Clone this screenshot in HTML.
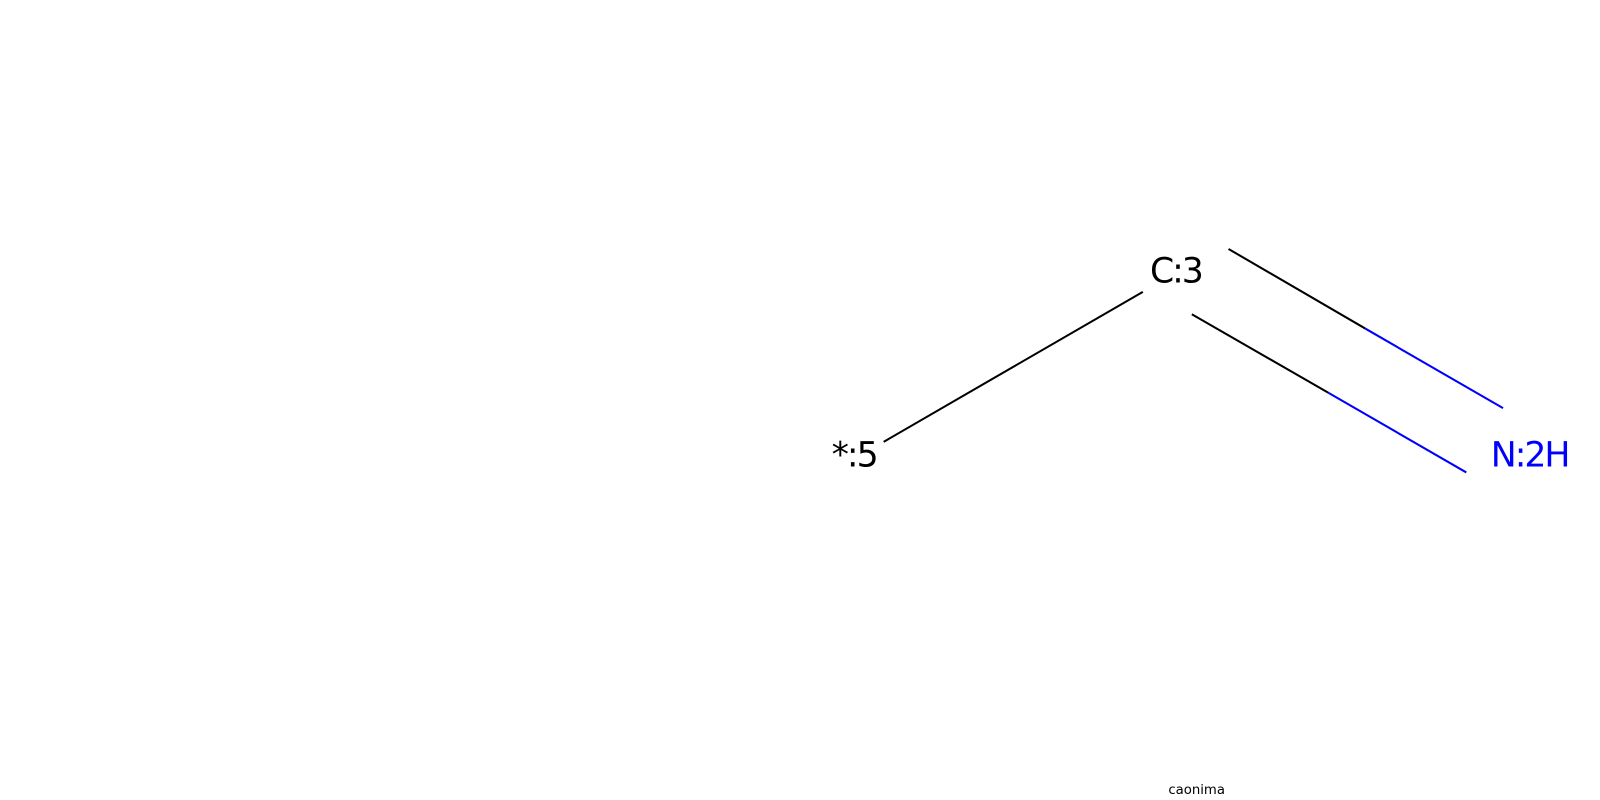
<!DOCTYPE html>
<html><head><meta charset="utf-8"><style>
html,body{margin:0;padding:0;background:#fff;}
svg{display:block;}
text{font-family:"DejaVu Sans","Liberation Sans",sans-serif;}
</style></head><body>
<svg width="1600" height="800" viewBox="0 0 1600 800">
<rect width="1600" height="800" fill="#fff"/>
<g transform="scale(1.0204)">
<g stroke-width="2" fill="none">
<line x1="866" y1="433" x2="1120" y2="286" stroke="#000"/>
<line x1="1204" y1="244" x2="1338" y2="322" stroke="#000"/>
<line x1="1338" y1="322" x2="1473" y2="400" stroke="#0000ff"/>
<line x1="1168" y1="308" x2="1302" y2="385" stroke="#000"/>
<line x1="1302" y1="385" x2="1437" y2="463" stroke="#0000ff"/>
</g>
<text x="1127" y="277" font-size="34" fill="#000" letter-spacing="-2">C:3</text>
<text x="815" y="457" font-size="34" fill="#000" letter-spacing="-2">*:5</text>
<text x="1461" y="457" font-size="34" fill="#0000ff" letter-spacing="-2">N:2H</text>
<text x="1145" y="778" font-size="13" fill="#000">caonima</text>
</g>
</svg>
</body></html>
